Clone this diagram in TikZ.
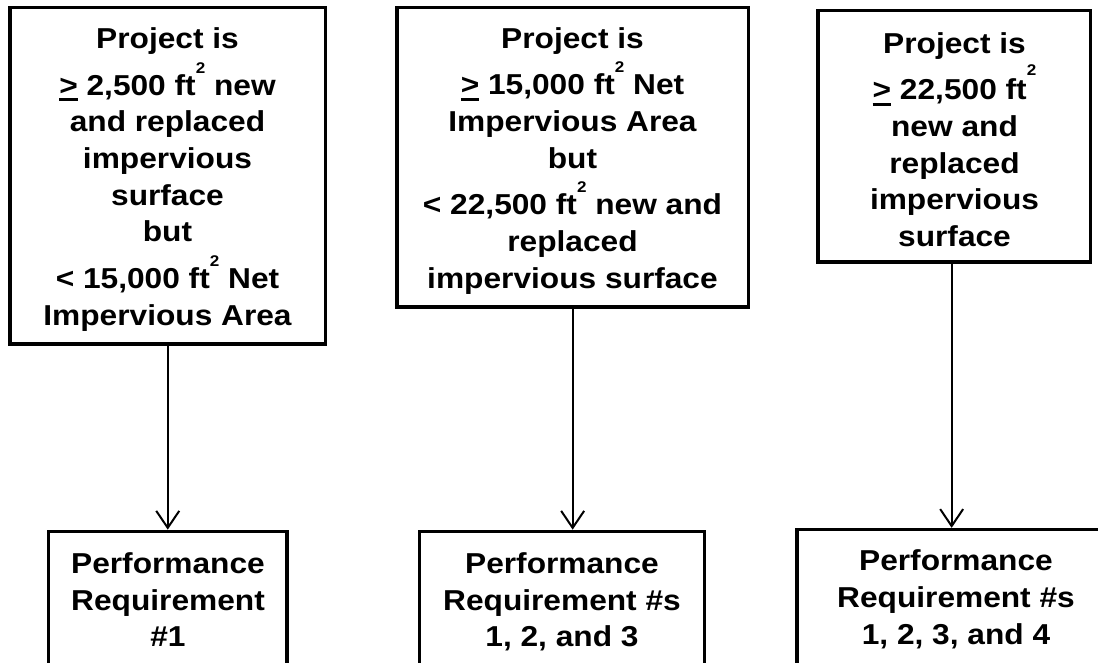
\documentclass[tikz,border=0pt]{standalone}
\usepackage{fontspec}
\setmainfont{Liberation Sans}[FakeStretch=1.1]
\usetikzlibrary{arrows.meta}
\newcommand\sqft[1][22pt]{\smash{\raisebox{#1}{\fontsize{15.5}{15.5}\selectfont 2}}}
\newcommand\uge{\setbox0\hbox{>}\rlap{\rule[-6pt]{\wd0}{3.2pt}}\box0}
\begin{document}
\begin{tikzpicture}[x=1pt,y=-1pt,
  frame/.style={draw, line width=3.3pt, inner sep=0pt},
  txt/.style={align=center, inner sep=0pt, anchor=north, font=\fontsize{28.8}{36.7}\selectfont\bfseries},
  conn/.style={line width=2pt, -{Straight Barb[length=17pt,width=23pt]}}]
\useasboundingbox (0,0) rectangle (1098,663);
\clip (0,0) rectangle (1098,663);
\fill[white] (0,0) rectangle (1098,663);

% top boxes
\node[frame, minimum width=315.5pt, minimum height=336.3pt] (b1) at (167.75,175.85) {};
\node[frame, minimum width=351.3pt, minimum height=299.8pt] (b2) at (572.65,157.1) {};
\node[frame, minimum width=272.3pt, minimum height=251.7pt] (b3) at (954.15,136.15) {};

\node[txt] (t1) at (167.5,27.7) {Project is\\[9.7pt]
\uge{} 2,500 ft\sqft{} new\\
and replaced\\
impervious\\
surface\\
but\\[10pt]
< 15,000 ft\sqft{} Net\\
Impervious Area};

\node[txt] (t2) at (572.5,27.4) {Project is\\[9.7pt]
\uge{} 15,000 ft\sqft{} Net\\
Impervious Area\\
but\\[9.7pt]
< 22,500 ft\sqft{} new and\\
replaced\\
impervious surface};

\node[txt] (t3) at (954.5,32.4) {Project is\\[9.7pt]
\uge{} 22,500 ft\sqft[24pt]\\
new and\\
replaced\\
impervious\\
surface};

% bottom boxes
\node[frame, minimum width=238.3pt, minimum height=140pt] (r1) at (167.85,601.3) {};
\node[frame, minimum width=285.4pt, minimum height=140pt] (r2) at (562,601.3) {};
\node[frame, minimum width=319pt, minimum height=140pt] (r3) at (956.5,599.5) {};

\node[txt] (s1) at (168,552.4) {Performance\\ Requirement\\ \#1};
\node[txt] (s2) at (562,552.4) {Performance\\ Requirement \#s\\ 1, 2, and 3};
\node[txt] (s3) at (956,549.8) {Performance\\ Requirement \#s\\ 1, 2, 3, and 4};

% connectors
\draw[conn] (b1.south) -- (b1.south |- r1.north);
\draw[conn] (b2.south) -- (b2.south |- r2.north);
\draw[conn] ([xshift=-2.5pt]b3.south) -- ([xshift=-2.5pt]b3.south |- r3.north);
\end{tikzpicture}
\end{document}
